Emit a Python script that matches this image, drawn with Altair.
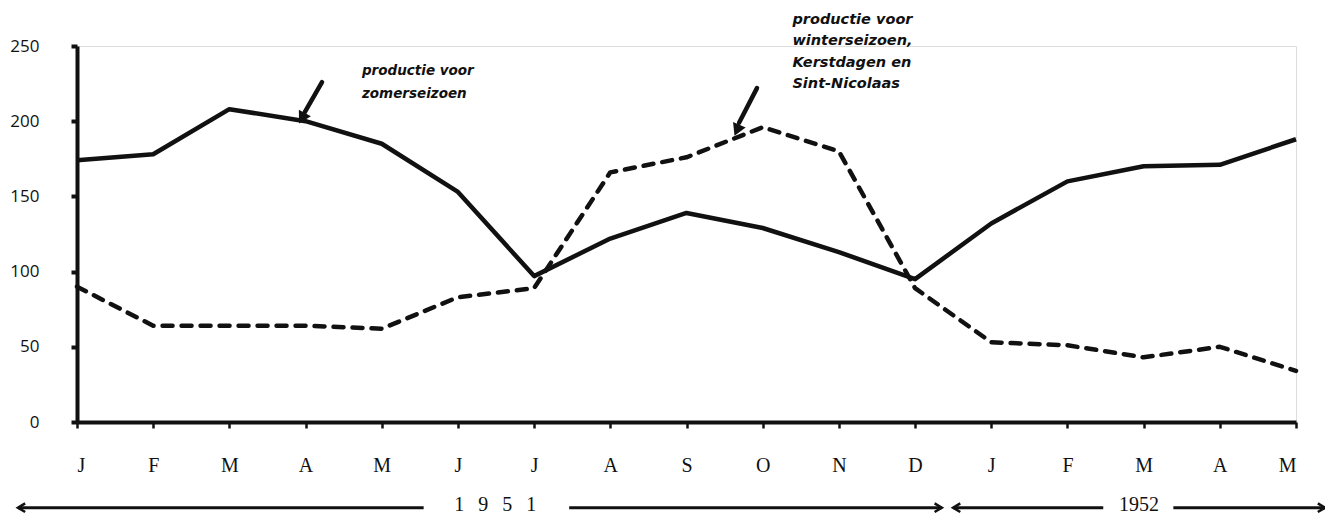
import altair as alt
import pandas as pd

months = ["J", "F", "M", "A", "M", "J", "J", "A", "S", "O", "N", "D",
          "J", "F", "M", "A", "M"]
zomer = [174, 178, 208, 200, 185, 153, 97, 122, 139, 129, 113, 95,
         132, 160, 170, 171, 188]
winter = [90, 64, 64, 64, 62, 83, 89, 166, 176, 196, 180, 89,
          53, 51, 43, 50, 34]
y_ticks = [0, 50, 100, 150, 200, 250]
label_zomer = ["productie voor", "zomerseizoen"]
label_winter = ["productie voor", "winterseizoen,", "Kerstdagen en", "Sint-Nicolaas"]
sp = "\u2002\u2009"
years = [sp.join("1951"), "1952"]

idx = list(range(len(months)))
df_z = pd.DataFrame({"i": idx, "v": zomer})
df_w = pd.DataFrame({"i": idx, "v": winter})

label_js = "[" + ",".join("'%s'" % m for m in months) + "]"

xs = alt.Scale(domain=[0, len(months) - 1], nice=False, zero=False)
ys = alt.Scale(domain=[0, 250], nice=False)

x_axis = alt.Axis(values=idx, labelExpr=label_js + "[datum.value]", title=None,
                  grid=False, labelFont="Liberation Serif", labelFontSize=20,
                  labelColor="#111", labelPadding=27, tickSize=6, tickWidth=2.5,
                  tickColor="#111", domainColor="#111", domainWidth=4)
y_axis = alt.Axis(values=y_ticks, title=None, grid=False, labelFont="Open Sans",
                  labelFontSize=17, labelColor="#111", labelPadding=32,
                  tickSize=6, tickWidth=4, tickColor="#111",
                  domainColor="#111", domainWidth=4)

base_x = alt.X("i:Q", scale=xs, axis=x_axis)
base_y = alt.Y("v:Q", scale=ys, axis=y_axis)

line_z = alt.Chart(df_z).mark_line(color="#111", strokeWidth=4.5, strokeJoin="round",
                                   clip=False).encode(x=base_x, y=base_y)
line_w = alt.Chart(df_w).mark_line(color="#111", strokeWidth=4.5, strokeDash=[10, 9],
                                   strokeCap="round", strokeJoin="round",
                                   clip=False).encode(x="i:Q", y="v:Q")

# annotation texts
txt1 = pd.DataFrame({"i": [3.74] * 2, "v": [233.5, 218.0], "t": label_zomer})
txt2 = pd.DataFrame({"i": [9.39] * 4, "v": [267.0, 253.0, 239.0, 225.0], "t": label_winter})
ann1 = alt.Chart(txt1).mark_text(align="left", baseline="middle", font="DejaVu Sans",
                                 fontSize=13.5, fontWeight="bold", fontStyle="italic",
                                 color="#111").encode(x="i:Q", y="v:Q", text="t:N")
ann2 = alt.Chart(txt2).mark_text(align="left", baseline="middle", font="DejaVu Sans",
                                 fontSize=14.5, fontWeight="bold", fontStyle="italic",
                                 color="#111").encode(x="i:Q", y="v:Q", text="t:N")

# pointer arrows
arr = pd.DataFrame({"i": [3.216, 8.925], "v": [226.0, 222.0],
                    "i2": [2.99, 8.69], "v2": [206.0, 199.0],
                    "ti": [2.953, 8.662], "tv": [202.0, 194.0], "ang": [29, 24]})
arr_lines = alt.Chart(arr).mark_rule(color="#111", strokeWidth=4.5,
                                     strokeCap="round").encode(
    x="i:Q", y="v:Q", x2="i2:Q", y2="v2:Q")
arr_heads = alt.Chart(arr).mark_point(shape="triangle-down", filled=True, color="#111",
                                      size=190, opacity=1).encode(
    x="ti:Q", y="tv:Q", angle=alt.Angle("ang:Q", scale=None))

# year span arrows below the axis
yr_y = -57
seg = pd.DataFrame({"a": [-0.774, 6.46, 11.50, 14.39],
                    "b": [4.55, 11.35, 13.47, 16.38], "v": [yr_y] * 4})
segs = alt.Chart(seg).mark_rule(color="#111", strokeWidth=3).encode(
    x="a:Q", x2="b:Q", y="v:Q")
left_tip = "M 1.5 -0.9 L 0 0 L 1.5 0.9"
right_tip = "M -1.5 -0.9 L 0 0 L -1.5 0.9"
tips_l = pd.DataFrame({"i": [-0.774, 11.50], "v": [yr_y] * 2})
tips_r = pd.DataFrame({"i": [11.35, 16.38], "v": [yr_y] * 2})
heads_l = alt.Chart(tips_l).mark_point(shape=left_tip, filled=False, color="#111",
                                       strokeWidth=2.6, size=90, opacity=1).encode(x="i:Q", y="v:Q")
heads_r = alt.Chart(tips_r).mark_point(shape=right_tip, filled=False, color="#111",
                                       strokeWidth=2.6, size=90, opacity=1).encode(x="i:Q", y="v:Q")
yr_df = pd.DataFrame({"i": [5.49, 13.94], "v": [-55.5] * 2, "t": years})
yr_txt = alt.Chart(yr_df).mark_text(font="Liberation Serif", fontSize=20, color="#111",
                                    baseline="middle").encode(x="i:Q", y="v:Q", text="t:N")

chart = alt.layer(line_z, line_w, ann1, ann2, arr_lines, arr_heads,
                  segs, heads_l, heads_r, yr_txt).properties(
    width=1219, height=376,
    autosize=alt.AutoSizeParams(type="none"),
    padding={"left": 69, "top": 38, "right": 29, "bottom": 96},
).configure_view(stroke=None).configure(background="white")

chart.save("out.html", embed_options={"renderer": "svg", "actions": False})
